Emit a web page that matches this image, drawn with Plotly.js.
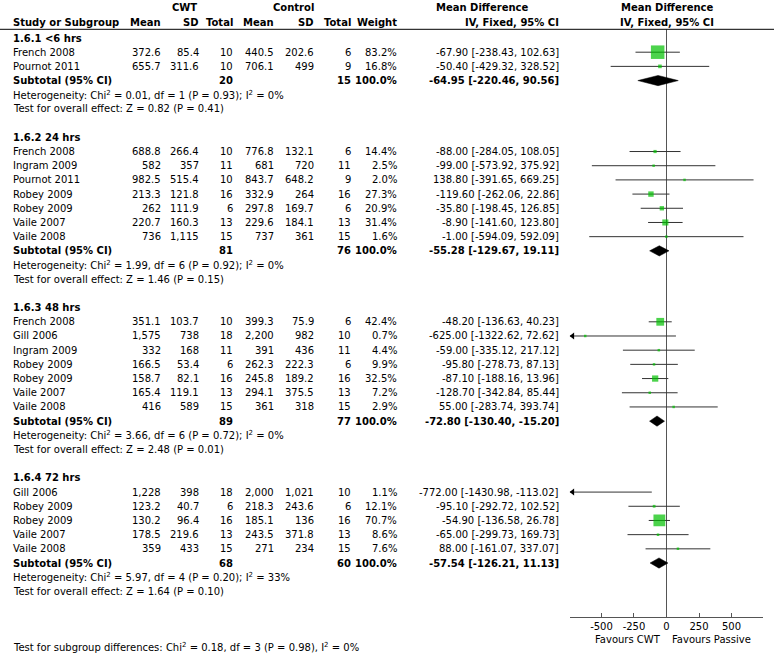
<!DOCTYPE html>
<html><head><meta charset="utf-8">
<script src="https://cdn.plot.ly/plotly-3.0.1.min.js"></script>
<style>body{margin:0;padding:0;background:#fff}#chart{width:777px;height:657px}</style>
</head><body><div id="chart"></div>
<script>
// ---------------- DATA ----------------
const groupLabels = ["1.6.1 <6 hrs", "1.6.2 24 hrs", "1.6.3 48 hrs", "1.6.4 72 hrs"];
const studyGroup = [0,0, 1,1,1,1,1,1,1, 2,2,2,2,2,2,2, 3,3,3,3,3];
const studyNames = ["French 2008","Pournot 2011",
  "French 2008","Ingram 2009","Pournot 2011","Robey 2009","Robey 2009","Vaile 2007","Vaile 2008",
  "French 2008","Gill 2006","Ingram 2009","Robey 2009","Robey 2009","Vaile 2007","Vaile 2008",
  "Gill 2006","Robey 2009","Robey 2009","Vaile 2007","Vaile 2008"];
const cwtMean = [372.6,655.7, 688.8,582,982.5,213.3,262,220.7,736, 351.1,1575,332,166.5,158.7,165.4,416, 1228,123.2,130.2,178.5,359];
const cwtSD   = [85.4,311.6, 266.4,357,515.4,121.8,111.9,160.3,1115, 103.7,738,168,53.4,82.1,119.1,589, 398,40.7,96.4,219.6,433];
const cwtN    = [10,10, 10,11,10,16,6,13,15, 10,18,11,6,16,13,15, 18,6,16,13,15];
const ctlMean = [440.5,706.1, 776.8,681,843.7,332.9,297.8,229.6,737, 399.3,2200,391,262.3,245.8,294.1,361, 2000,218.3,185.1,243.5,271];
const ctlSD   = [202.6,499, 132.1,720,648.2,264,169.7,184.1,361, 75.9,982,436,222.3,189.2,375.5,318, 1021,243.6,136,371.8,234];
const ctlN    = [6,9, 6,11,9,16,6,13,15, 6,10,11,6,16,13,15, 10,6,16,13,15];
const weights = [83.2,16.8, 14.4,2.5,2.0,27.3,20.9,31.4,1.6, 42.4,0.7,4.4,9.9,32.5,7.2,2.9, 1.1,12.1,70.7,8.6,7.6];
const mdEst   = [-67.90,-50.40, -88.00,-99.00,138.80,-119.60,-35.80,-8.90,-1.00, -48.20,-625.00,-59.00,-95.80,-87.10,-128.70,55.00, -772.00,-95.10,-54.90,-65.00,88.00];
const mdLow   = [-238.43,-429.32, -284.05,-573.92,-391.65,-262.06,-198.45,-141.60,-594.09, -136.63,-1322.62,-335.12,-278.73,-188.16,-342.84,-283.74, -1430.98,-292.72,-136.58,-299.73,-161.07];
const mdHigh  = [102.63,328.52, 108.05,375.92,669.25,22.86,126.85,123.80,592.09, 40.23,72.62,217.12,87.13,13.96,85.44,393.74, -113.02,102.52,26.78,169.73,337.07];

const subCwtN = [20, 81, 89, 68];
const subCtlN = [15, 76, 77, 60];
const subMd   = [-64.95, -55.28, -72.80, -57.54];
const subLow  = [-220.46, -129.67, -130.40, -126.21];
const subHigh = [90.56, 19.11, -15.20, 11.13];
const hetChi  = [0.01, 1.99, 3.66, 5.97];
const hetDf   = [1, 6, 6, 4];
const hetP    = [0.93, 0.92, 0.72, 0.20];
const hetI2   = [0, 0, 0, 33];
const zVal    = [0.82, 1.46, 2.48, 1.64];
const zP      = [0.41, 0.15, 0.01, 0.10];
const diffChi = 0.18, diffDf = 3, diffP = 0.98, diffI2 = 0;

const tickVals = [-500, -250, 0, 250, 500];
const tickText = ["-500", "-250", "0", "250", "500"];

// ---------------- LAYOUT CONSTANTS ----------------
const W = 777, H = 657;
const FONT = "DejaVu Sans";
const FS = 10;
const ROW0 = 38, ROWH = 14.19;        // pixel of row 0 and row height
const AXIS_Y = 617.3;                 // pixel of the forest x axis line
const XR = 742;                       // half range of forest axis
const rowAt = p => (p - ROW0) / ROWH;
const px = p => p / W;
const py = p => (H - p) / H;

const col = { study: 12, cMean: 162, cSD: 200, cN: 234, kMean: 275, kSD: 315, kN: 352, w: 398, md: 560 };

const fmtNum = v => v.toLocaleString('en-US', { maximumFractionDigits: 1 });
const fmtCI = (m, l, h) => m.toFixed(2) + " [" + l.toFixed(2) + ", " + h.toFixed(2) + "]";

const ann = [];
function txt(text, xpx, row, anchor, bold) {
  ann.push({ text: bold ? "<b>" + text + "</b>" : text, x: px(xpx), xref: "paper", y: row, yref: "y",
    xanchor: anchor, yanchor: "middle", showarrow: false, borderpad: 0,
    font: { family: FONT, size: FS, color: "#000" } });
}
function txtP(text, xpx, ypx, anchor, bold) {
  ann.push({ text: bold ? "<b>" + text + "</b>" : text, x: px(xpx), xref: "paper", y: py(ypx), yref: "paper",
    xanchor: anchor, yanchor: "middle", showarrow: false, borderpad: 0,
    font: { family: FONT, size: FS, color: "#000" } });
}

// Header
const h1 = rowAt(7.5), h2 = rowAt(22.5);
txt("CWT", 184, h1, "center", true);
txt("Control", 293, h1, "center", true);
txt("Mean Difference", 435, h1, "left", true);
txt("Mean Difference", 666.5, h1, "center", true);
txt("Study or Subgroup", col.study, h2, "left", true);
txt("Mean", col.cMean, h2, "right", true);
txt("SD", col.cSD, h2, "right", true);
txt("Total", col.cN, h2, "right", true);
txt("Mean", col.kMean, h2, "right", true);
txt("SD", col.kSD, h2, "right", true);
txt("Total", col.kN, h2, "right", true);
txt("Weight", col.w, h2, "right", true);
txt("IV, Fixed, 95% CI", col.md, h2, "right", true);
txt("IV, Fixed, 95% CI", 666.5, h2, "center", true);

// Body
const studyRows = [];
const subRows = [];
let row = 0;
for (let g = 0; g < groupLabels.length; g++) {
  txt(groupLabels[g], col.study, row, "left", true);
  row++;
  for (let i = 0; i < studyNames.length; i++) {
    if (studyGroup[i] !== g) continue;
    studyRows[i] = row;
    txt(studyNames[i], col.study, row, "left", false);
    txt(fmtNum(cwtMean[i]), col.cMean, row, "right", false);
    txt(fmtNum(cwtSD[i]), col.cSD, row, "right", false);
    txt(String(cwtN[i]), col.cN, row, "right", false);
    txt(fmtNum(ctlMean[i]), col.kMean, row, "right", false);
    txt(fmtNum(ctlSD[i]), col.kSD, row, "right", false);
    txt(String(ctlN[i]), col.kN, row, "right", false);
    txt(weights[i].toFixed(1) + "%", col.w, row, "right", false);
    txt(fmtCI(mdEst[i], mdLow[i], mdHigh[i]), col.md, row, "right", false);
    row++;
  }
  subRows[g] = row;
  txt("Subtotal (95% CI)", col.study, row, "left", true);
  txt(String(subCwtN[g]), col.cN, row, "right", true);
  txt(String(subCtlN[g]), col.kN, row, "right", true);
  txt("100.0%", col.w, row, "right", true);
  txt(fmtCI(subMd[g], subLow[g], subHigh[g]), col.md, row, "right", true);
  row++;
  txt("Heterogeneity: Chi<sup>2</sup> = " + hetChi[g].toFixed(2) + ", df = " + hetDf[g] +
      " (P = " + hetP[g].toFixed(2) + "); I<sup>2</sup> = " + hetI2[g] + "%", col.study, row, "left", false);
  row++;
  txt("Test for overall effect: Z = " + zVal[g].toFixed(2) + " (P = " + zP[g].toFixed(2) + ")", col.study, row, "left", false);
  row += 2;
}

txtP("Test for subgroup differences: Chi<sup>2</sup> = " + diffChi.toFixed(2) + ", df = " + diffDf +
     " (P = " + diffP.toFixed(2) + "), I<sup>2</sup> = " + diffI2 + "%", col.study, 647, "left", false);
txtP("Favours CWT", 662, 639.5, "right", false);
txtP("Favours Passive", 671, 639.5, "left", false);

// ---------------- TRACES ----------------
const traces = [];
// CI lines
const lx = [], ly = [];
for (let i = 0; i < studyNames.length; i++) {
  lx.push(mdLow[i], mdHigh[i], null);
  ly.push(studyRows[i], studyRows[i], null);
}
traces.push({ type: "scatter", mode: "lines", x: lx, y: ly, line: { color: "#333", width: 1 }, hoverinfo: "skip" });
// squares
traces.push({ type: "scatter", mode: "markers", x: mdEst, y: studyRows,
  marker: { symbol: "square", color: "#00c000", size: weights.map(w => Math.max(2.5, 0.36 * Math.pow(w, 0.82))), line: { width: 0 } },
  hoverinfo: "skip" });
// arrows for CIs beyond axis
const arX = [], arY = [], arS = [];
for (let i = 0; i < studyNames.length; i++) {
  if (mdLow[i] < -XR) { arX.push(-XR + 20); arY.push(studyRows[i]); arS.push("triangle-left"); }
  if (mdHigh[i] > XR) { arX.push(XR - 20); arY.push(studyRows[i]); arS.push("triangle-right"); }
}
traces.push({ type: "scatter", mode: "markers", x: arX, y: arY, cliponaxis: false,
  marker: { symbol: arS, color: "#000", size: 6 }, hoverinfo: "skip" });
// diamonds
for (let g = 0; g < groupLabels.length; g++) {
  const r = subRows[g], d = 0.36;
  traces.push({ type: "scatter", mode: "lines", fill: "toself", fillcolor: "#000",
    x: [subLow[g], subMd[g], subHigh[g], subMd[g], subLow[g]],
    y: [r, r - d, r, r + d, r], line: { color: "#000", width: 0.5 }, hoverinfo: "skip" });
}

const layout = {
  width: W, height: H, margin: { l: 0, r: 0, t: 0, b: 0 },
  paper_bgcolor: "#fff", plot_bgcolor: "rgba(0,0,0,0)", showlegend: false,
  font: { family: FONT, size: FS, color: "#000" },
  xaxis: { domain: [px(570), px(763)], range: [-XR, XR], showgrid: false, zeroline: false,
    showline: true, linecolor: "#555", linewidth: 1, ticks: "inside", ticklen: 4, tickcolor: "#555",
    tickvals: tickVals, ticktext: tickText, tickfont: { family: FONT, size: FS, color: "#000" }, fixedrange: true },
  yaxis: { domain: [py(AXIS_Y), 1], range: [rowAt(AXIS_Y), rowAt(0)], visible: false, fixedrange: true },
  shapes: [
    { type: "line", xref: "paper", yref: "y", x0: 0, x1: px(774), y0: rowAt(29.3), y1: rowAt(29.3), line: { color: "#000", width: 1 } },
    { type: "line", xref: "x", yref: "y", x0: 0, x1: 0, y0: rowAt(29.3), y1: rowAt(AXIS_Y), line: { color: "#555", width: 1 }, layer: "below" }
  ],
  annotations: ann
};
Plotly.newPlot("chart", traces, layout, { displayModeBar: false, staticPlot: true });
</script></body></html>
